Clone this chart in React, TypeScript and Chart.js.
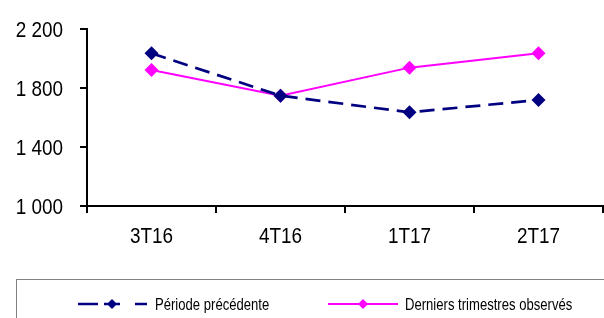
import React, { useEffect, useRef } from "react";
import { Chart, registerables } from "chart.js";

Chart.register(...registerables);

const categories = ["3T16", "4T16", "1T17", "2T17"];
const previousPeriod = [2035, 1748, 1635, 1719];
const lastQuarters = [1922, 1748, 1938, 2035];
const seriesNames = ["Période précédente", "Derniers trimestres observés"];
const yTicks = [1000, 1400, 1800, 2200];

const FAMILY = "'Liberation Sans', Arial, sans-serif";

const fmt = (v: number) => String(Math.round(v)).replace(/\B(?=(\d{3})+(?!\d))/g, " ");

function narrowText(
  ctx: CanvasRenderingContext2D,
  text: string,
  x: number,
  y: number,
  size: number,
  sx: number,
  align: CanvasTextAlign
) {
  ctx.save();
  ctx.translate(x, y);
  ctx.scale(sx, 1);
  ctx.font = size + "px " + FAMILY;
  ctx.fillStyle = "#000";
  ctx.textAlign = align;
  ctx.textBaseline = "alphabetic";
  ctx.fillText(text, 0, 0);
  ctx.restore();
}

const labelPlugin = {
  id: "narrowLabels",
  afterDraw(chart: any) {
    const ctx = chart.ctx as CanvasRenderingContext2D;
    const ys = chart.scales.y;
    const xs = chart.scales.x;
    yTicks.forEach((v) => {
      narrowText(ctx, fmt(v), 63, ys.getPixelForValue(v) + 8, 22, 0.86, "right");
    });
    categories.forEach((c, i) => {
      narrowText(ctx, c, xs.getPixelForValue(i), xs.bottom - 112 + 37, 22, 0.86, "center");
    });
  },
};

const legendPlugin = {
  id: "boxLegend",
  afterDraw(chart: any) {
    const ctx = chart.ctx as CanvasRenderingContext2D;
    ctx.save();
    ctx.strokeStyle = "#808080";
    ctx.lineWidth = 1;
    ctx.strokeRect(16.5, 279.5, 640, 60);
    const cy = 304;
    const items = [
      { mx: 112, tx: 155 },
      { mx: 363, tx: 405 },
    ];
    chart.data.datasets.forEach((ds: any, i: number) => {
      const it = items[i];
      ctx.strokeStyle = ds.borderColor;
      ctx.lineWidth = ds.borderWidth;
      ctx.beginPath();
      if (i === 0) {
        ctx.moveTo(78, cy); ctx.lineTo(98, cy);
        ctx.moveTo(104, cy); ctx.lineTo(120, cy);
        ctx.moveTo(135, cy); ctx.lineTo(147, cy);
      } else {
        ctx.moveTo(328, cy); ctx.lineTo(398, cy);
      }
      ctx.stroke();
      const mx = it.mx;
      ctx.fillStyle = ds.borderColor;
      ctx.beginPath();
      ctx.moveTo(mx, cy - 5);
      ctx.lineTo(mx + 5, cy);
      ctx.lineTo(mx, cy + 5);
      ctx.lineTo(mx - 5, cy);
      ctx.closePath();
      ctx.fill();
      narrowText(ctx, ds.label, it.tx, cy + 6, 17, 0.77, "left");
    });
    ctx.restore();
  },
};

export default function App() {
  const ref = useRef<HTMLCanvasElement>(null);
  useEffect(() => {
    if (!ref.current) return;
    const chart = new Chart(ref.current, {
      type: "line",
      data: {
        labels: categories,
        datasets: [
          {
            label: seriesNames[0],
            data: previousPeriod,
            borderColor: "#000080",
            backgroundColor: "#000080",
            borderWidth: 2.7,
            borderDash: [15, 8],
            pointStyle: "rectRot",
            pointRadius: 7,
            pointBorderWidth: 0,
            tension: 0,
          },
          {
            label: seriesNames[1],
            data: lastQuarters,
            borderColor: "#FF00FF",
            backgroundColor: "#FF00FF",
            borderWidth: 2,
            pointStyle: "rectRot",
            pointRadius: 7,
            pointBorderWidth: 0,
            tension: 0,
          },
        ],
      },
      options: {
        responsive: false,
        animation: false,
        layout: { padding: { top: 29, left: 0, right: 3, bottom: 0 } },
        plugins: { legend: { display: false }, tooltip: { enabled: false } },
        scales: {
          x: {
            offset: true,
            grid: {
              offset: true,
              drawOnChartArea: false,
              drawTicks: true,
              tickLength: 7,
              color: "#000",
              lineWidth: 2,
            },
            border: { color: "#000", width: 2 },
            ticks: { display: false },
            afterFit: (s: any) => {
              s.height = 112;
            },
          },
          y: {
            min: 1000,
            max: 2200,
            afterBuildTicks: (s: any) => {
              s.ticks = yTicks.map((v) => ({ value: v }));
            },
            grid: {
              drawOnChartArea: false,
              drawTicks: true,
              tickLength: 7,
              color: "#000",
              lineWidth: 2,
            },
            border: { color: "#000", width: 2 },
            ticks: { display: false },
            afterFit: (s: any) => {
              s.width = 87;
            },
          },
        },
      },
      plugins: [labelPlugin, legendPlugin],
    });
    return () => chart.destroy();
  }, []);
  return (
    <div style={{ position: "fixed", left: 0, top: 0, width: 604, height: 318, overflow: "hidden", background: "#fff" }}>
      <canvas ref={ref} width={610} height={318} style={{ display: "block" }} />
    </div>
  );
}
